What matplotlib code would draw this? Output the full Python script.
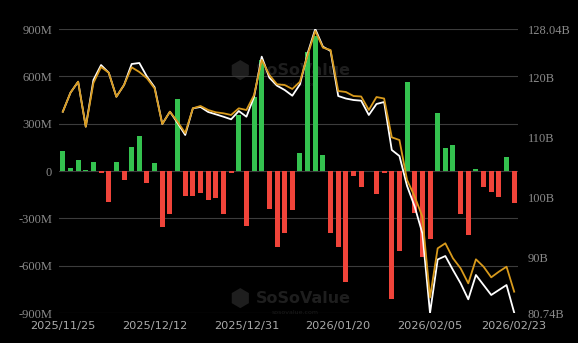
import numpy as np
import pandas as pd
import matplotlib
matplotlib.use("Agg")
import matplotlib.pyplot as plt

# daily net inflow (M USD), 60 trading days
flows = [127, 21, 72, 8, 57, -13, -194, 55, -59, 152,
         224, -74, 49, -357, -275, 458, -158, -156, -142, -186,
         -173, -273, -15, 355, -347, 467, 704, -241, -484, -395,
         -247, 116, 754, 856, 101, -391, -480, -706, -30, -99,
         3, -144, -15, -813, -505, 562, -264, -543, -431, 370,
         146, 165, -273, -408, 11, -104, -131, -163, 89, -201]

# total net assets (B USD) - white line
net_assets = [114.27, 117.43, 119.26, 111.77, 119.55, 122.04, 120.76, 116.76, 118.71, 122.21,
              122.38, 120.10, 118.33, 112.22, 114.27, 112.38, 110.39, 114.83, 115.05, 114.22,
              113.83, 113.43, 113.00, 114.38, 113.43, 116.76, 123.43, 119.93, 118.60, 117.88,
              116.93, 118.83, 123.99, 128.04, 125.09, 124.38, 116.88, 116.46, 116.21, 116.10,
              113.72, 115.55, 115.88, 107.89, 106.89, 101.89, 98.44, 94.01, 80.74, 89.65,
              90.23, 87.90, 85.68, 83.02, 87.07, 85.40, 83.74, 84.57, 85.40, 80.80]

# second series (B USD) - gold line
gold_line = [114.27, 117.43, 119.26, 111.77, 119.05, 121.71, 120.76, 116.76, 118.71, 121.66,
             120.88, 119.83, 118.13, 112.22, 114.27, 112.60, 110.72, 114.83, 115.22, 114.55,
             114.17, 114.00, 113.72, 114.83, 114.55, 117.05, 122.88, 120.38, 118.83, 118.71,
             118.05, 119.26, 123.71, 127.71, 124.93, 124.54, 117.71, 117.55, 116.88, 116.80,
             114.55, 116.71, 116.46, 110.00, 109.55, 102.89, 100.11, 96.78, 83.32, 91.51,
             92.35, 89.85, 88.18, 85.68, 89.68, 88.45, 86.68, 87.62, 88.45, 84.29]

holidays = ["2025-11-27", "2025-12-25", "2026-01-01", "2026-01-19", "2026-02-16"]
dates = pd.bdate_range("2025-11-25", "2026-02-23", freq="C", holidays=holidays)
date_labels = [d.strftime("%Y/%m/%d") for d in dates]

left_ticks = [-900, -600, -300, 0, 300, 600, 900]
left_labels = ["-900M", "-600M", "-300M", "0", "300M", "600M", "900M"]
right_ticks = [80.74, 90, 100, 110, 120, 128.04]
right_labels = ["80.74B", "90B", "100B", "110B", "120B", "128.04B"]

x = np.arange(len(flows))
flows = np.array(flows)
bar_colors = np.where(flows >= 0, "#34c24f", "#f0443a")

fig = plt.figure(figsize=(5.78, 3.43), dpi=100, facecolor="#000000")
ax = fig.add_axes([59 / 578, 30 / 343, 459 / 578, 284 / 343])
ax.set_facecolor("none")

ax.bar(x, flows, width=0.66, color=bar_colors, zorder=2)
ax.set_xlim(-0.5, len(flows) - 0.5)
ax.set_ylim(-900, 900)
ax.set_yticks(left_ticks)
ax.set_yticklabels(left_labels, fontfamily="Liberation Serif", fontsize=9, color="#8a8a8a")
ax.grid(axis="y", color="#3c3c3c", linewidth=0.8, zorder=0)
ax.tick_params(axis="y", length=0, pad=5)

tick_idx = [0, 12, 24, 36, 48, 59]
ax.set_xticks(tick_idx)
ax.set_xticklabels([date_labels[i] for i in tick_idx], fontfamily="DejaVu Sans",
                   fontsize=8.2, color="#aaaaaa")
ax.tick_params(axis="x", length=0, pad=5.5)
for s in ax.spines.values():
    s.set_visible(False)

# watermarks
for wy in (0.79, 0.125):
    ax.text(0.415, wy, "\u2b22", transform=fig.transFigure, fontsize=17,
            color="#1e1e1e", ha="center", va="center", zorder=0, family="DejaVu Sans")
    ax.text(0.525, wy + 0.005, "SoSoValue", transform=fig.transFigure, fontsize=11.5,
            fontweight="bold", color="#1e1e1e", ha="center", va="center", zorder=0)
    ax.text(0.51, wy - 0.035, "sosovalue.com", transform=fig.transFigure, fontsize=4.5,
            color="#1c1c1c", ha="center", va="center", zorder=0)

ax2 = ax.twinx()
ax2.plot(x, net_assets, color="#ffffff", linewidth=1.3, zorder=3)
ax2.plot(x, gold_line, color="#d89a1c", linewidth=1.3, zorder=4)
ax2.set_ylim(80.74, 128.04)
ax2.set_yticks(right_ticks)
ax2.set_yticklabels(right_labels, fontfamily="Liberation Serif", fontsize=9, color="#8a8a8a")
ax2.tick_params(axis="y", length=0, pad=7)
for s in ax2.spines.values():
    s.set_visible(False)

fig.savefig("out.png", dpi=100, facecolor=fig.get_facecolor())
